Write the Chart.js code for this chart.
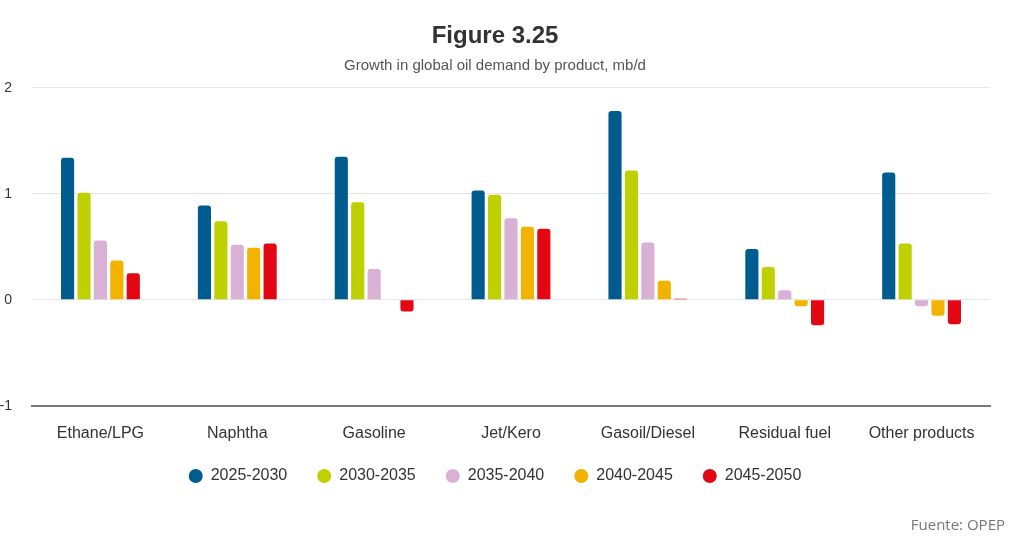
<!DOCTYPE html>
<html>
<head>
<meta charset="utf-8">
<script src="https://cdn.jsdelivr.net/npm/chart.js@4/dist/chart.umd.min.js"></script>
<style>
  html, body { margin: 0; padding: 0; background: #fff; }
  #wrap { position: relative; width: 1011px; height: 540px; }
  #source {
    position: absolute; right: 6px; bottom: 6px;
    font-family: "Open Sans", sans-serif; font-size: 15px; color: #777;
  }
</style>
</head>
<body>
<div id="wrap">
  <canvas id="demandChart" width="1011" height="540"></canvas>
  <div id="source">Fuente: OPEP</div>
</div>
<script>
// --- Categories & series (mb/d growth per period) ---
const products = ['Ethane/LPG', 'Naphtha', 'Gasoline', 'Jet/Kero', 'Gasoil/Diesel', 'Residual fuel', 'Other products'];
const periods = ['2025-2030', '2030-2035', '2035-2040', '2040-2045', '2045-2050'];

const g2025_2030 = [1.34, 0.89, 1.35, 1.03, 1.78, 0.48, 1.20];
const g2030_2035 = [1.01, 0.74, 0.92, 0.99, 1.22, 0.31, 0.53];
const g2035_2040 = [0.56, 0.52, 0.29, 0.77, 0.54, 0.09, -0.06];
const g2040_2045 = [0.37, 0.49, -0.005, 0.69, 0.18, -0.06, -0.15];
const g2045_2050 = [0.25, 0.53, -0.11, 0.67, 0.01, -0.24, -0.23];

const yTicks = [2, 1, 0, -1];

const colors = ['#005b8f', '#bfd000', '#d9b1d4', '#f2b300', '#e30613'];
const seriesValues = [g2025_2030, g2030_2035, g2035_2040, g2040_2045, g2045_2050];

const font = "'Liberation Sans', Arial, sans-serif";

// legend sits a bit closer to the axis labels than chart.js would put it
const legendNudge = {
    id: 'legendNudge',
    afterLayout(chart) {
        chart.legend.top -= 23;
        chart.legend.bottom -= 23;
    }
};

const ctx = document.getElementById('demandChart').getContext('2d');

new Chart(ctx, {
    type: 'bar',
    plugins: [legendNudge],
    data: {
        labels: products,
        datasets: periods.map((p, i) => ({
            label: p,
            data: seriesValues[i],
            backgroundColor: colors[i],
            borderRadius: 3,
            borderSkipped: 'start',
            categoryPercentage: 0.6,
            barPercentage: 0.8
        }))
    },
    options: {
        responsive: false,
        animation: false,
        layout: { padding: { left: 0, right: 21, bottom: 23 } },
        plugins: {
            title: {
                display: true,
                text: 'Figure 3.25',
                color: '#333',
                font: { family: font, size: 24, weight: 'bold' },
                padding: { top: 22, bottom: 6 }
            },
            subtitle: {
                display: true,
                text: 'Growth in global oil demand by product, mb/d',
                color: '#555',
                font: { family: font, size: 15 },
                padding: { top: 0, bottom: 13 }
            },
            legend: {
                position: 'bottom',
                labels: {
                    usePointStyle: true,
                    pointStyle: 'circle',
                    pointStyleWidth: 14,
                    boxHeight: 10,
                    padding: 30,
                    color: '#333',
                    font: { family: font, size: 16 }
                }
            },
            tooltip: { enabled: false }
        },
        scales: {
            x: {
                grid: { display: false, drawTicks: false },
                border: { display: true, color: '#777', width: 2 },
                ticks: { color: '#333', font: { family: font, size: 16 }, padding: 18 }
            },
            y: {
                min: -1,
                max: 2,
                afterFit: (scale) => { scale.width = 32; },
                afterBuildTicks: (scale) => { scale.ticks = yTicks.map(v => ({ value: v })); },
                grid: { color: '#e6e6e6', lineWidth: 1, drawTicks: false },
                border: { display: false },
                ticks: { color: '#333', font: { family: font, size: 14 }, padding: 20 }
            }
        }
    }
});
</script>
</body>
</html>
